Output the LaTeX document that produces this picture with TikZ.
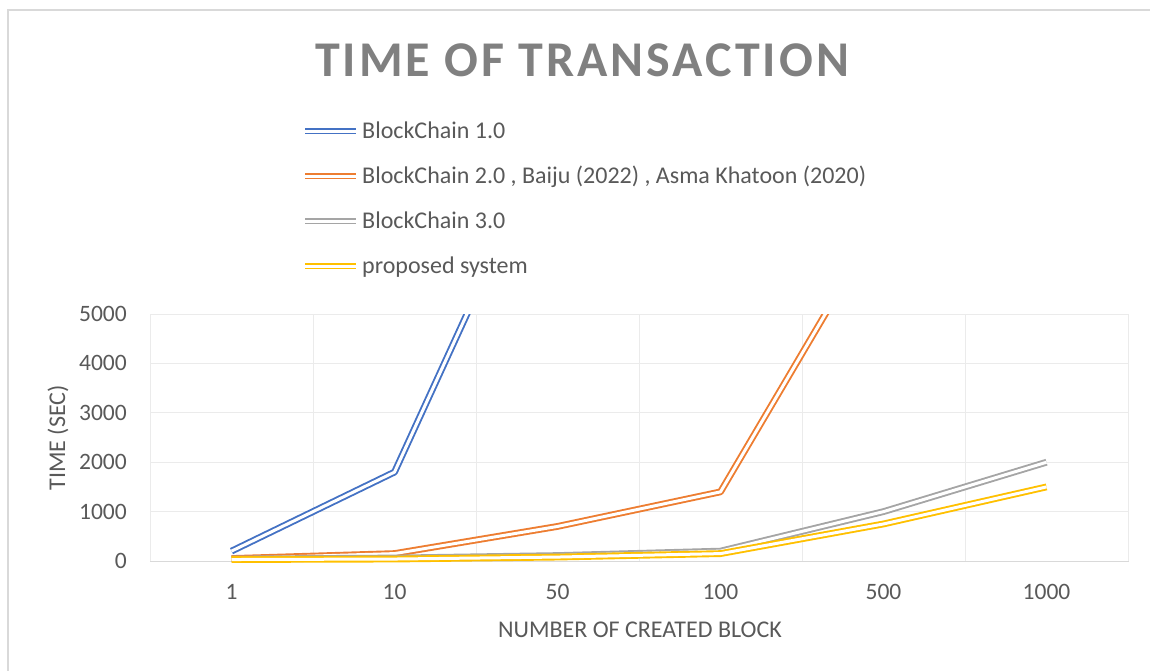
\documentclass[tikz,border=0pt]{standalone}
\usepackage{fontspec}
\setmainfont{Carlito}
\newfontfamily\titlefont[LetterSpace=6]{Carlito}
\definecolor{sblue}{HTML}{4472C4}
\definecolor{sorange}{HTML}{ED7D31}
\definecolor{sgray}{HTML}{A5A5A5}
\definecolor{sgold}{HTML}{FFC000}
\definecolor{txt}{HTML}{595959}
\definecolor{ttl}{HTML}{808080}
\definecolor{gridc}{HTML}{EBEBEB}
\definecolor{axisc}{HTML}{D9D9D9}
\tikzset{
  series/.style={line width=1.9pt, double=white, double distance=3pt, line join=round},
  ticklab/.style={text=txt, font=\fontsize{23.5}{28}\selectfont, inner sep=0pt},
  axtitle/.style={text=txt, font=\fontsize{24}{28}\selectfont, inner sep=0pt},
  legtext/.style={text=txt, font=\fontsize{24}{28}\selectfont, inner sep=0pt, anchor=west, text height=15.5pt, text depth=0pt},
  gridline/.style={draw=gridc, line width=1pt},
  declare function={cx(\i)=231.5+163*\i; cy(\v)=561-0.0494*\v;}
}
\begin{document}
\begin{tikzpicture}[x=1pt,y=-1pt]
\useasboundingbox (0,0) rectangle (1150,670);
% chart border (top and left visible)
\draw[axisc, line width=1.5pt] (1152,10) -- (8,10) -- (8,672);
% title
\node[text=ttl, font=\titlefont\bfseries\fontsize{50}{60}\selectfont, inner sep=0pt] (title) at (582,60) {TIME OF TRANSACTION};
% legend
\foreach \r/\c/\t [count=\k] in {131/sblue/{BlockChain 1.0}, 176/sorange/{BlockChain 2.0 , Baiju (2022) , Asma Khatoon (2020)}, 221/sgray/{BlockChain 3.0}, 266/sgold/{proposed system}}{
  \coordinate (la\k) at (305,\r);
  \coordinate (lb\k) at (356,\r);
  \draw[series, draw=\c] (la\k) -- (lb\k);
  \node[legtext] (lt\k) at (362,\r) {\t};
}
% gridlines
\foreach \v in {1000,2000,3000,4000,5000}{
  \draw[gridline] (150,{cy(\v)}) -- (1129,{cy(\v)});
}
\foreach \k in {0,...,6}{
  \draw[gridline] ({150+163*\k},314) -- ({150+163*\k},561);
}
\draw[axisc, line width=1pt] (150,561) -- (1129,561);
% y tick labels
\foreach \v in {0,1000,2000,3000,4000,5000}{
  \node[ticklab, anchor=east] (yt\v) at (127,{cy(\v)}) {\v};
}
% x tick labels
\foreach \l [count=\k from 0] in {1,10,50,100,500,1000}{
  \node[ticklab] (xt\k) at ({cx(\k)},592) {\l};
}
% axis titles
\node[axtitle] (xtitle) at (640,630) {NUMBER OF CREATED BLOCK};
\node[axtitle, rotate=90] (ytitle) at (58,438) {TIME (SEC)};
% data points
\foreach \i/\v [count=\k] in {0/200,1/1800,2/9000}{\coordinate (b\k) at ({cx(\i)},{cy(\v)});}
\foreach \i/\v [count=\k] in {0/50,1/150,2/700,3/1400,4/7000}{\coordinate (o\k) at ({cx(\i)},{cy(\v)});}
\foreach \i/\v [count=\k] in {0/40,1/60,2/110,3/200,4/1000,5/2000}{\coordinate (g\k) at ({cx(\i)},{cy(\v)});}
\foreach \i/\v [count=\k] in {0/30,1/40,2/80,3/150,4/750,5/1500}{\coordinate (y\k) at ({cx(\i)},{cy(\v)});}
\begin{scope}
\clip (150,314) rectangle (1135,570);
\draw[series, draw=sblue] (b1) -- (b2) -- (b3);
\draw[series, draw=sorange] (o1) -- (o2) -- (o3) -- (o4) -- (o5);
\draw[series, draw=sgray] (g1) -- (g2) -- (g3) -- (g4) -- (g5) -- (g6);
\draw[series, draw=sgold] (y1) -- (y2) -- (y3) -- (y4) -- (y5) -- (y6);
\end{scope}
\end{tikzpicture}
\end{document}
